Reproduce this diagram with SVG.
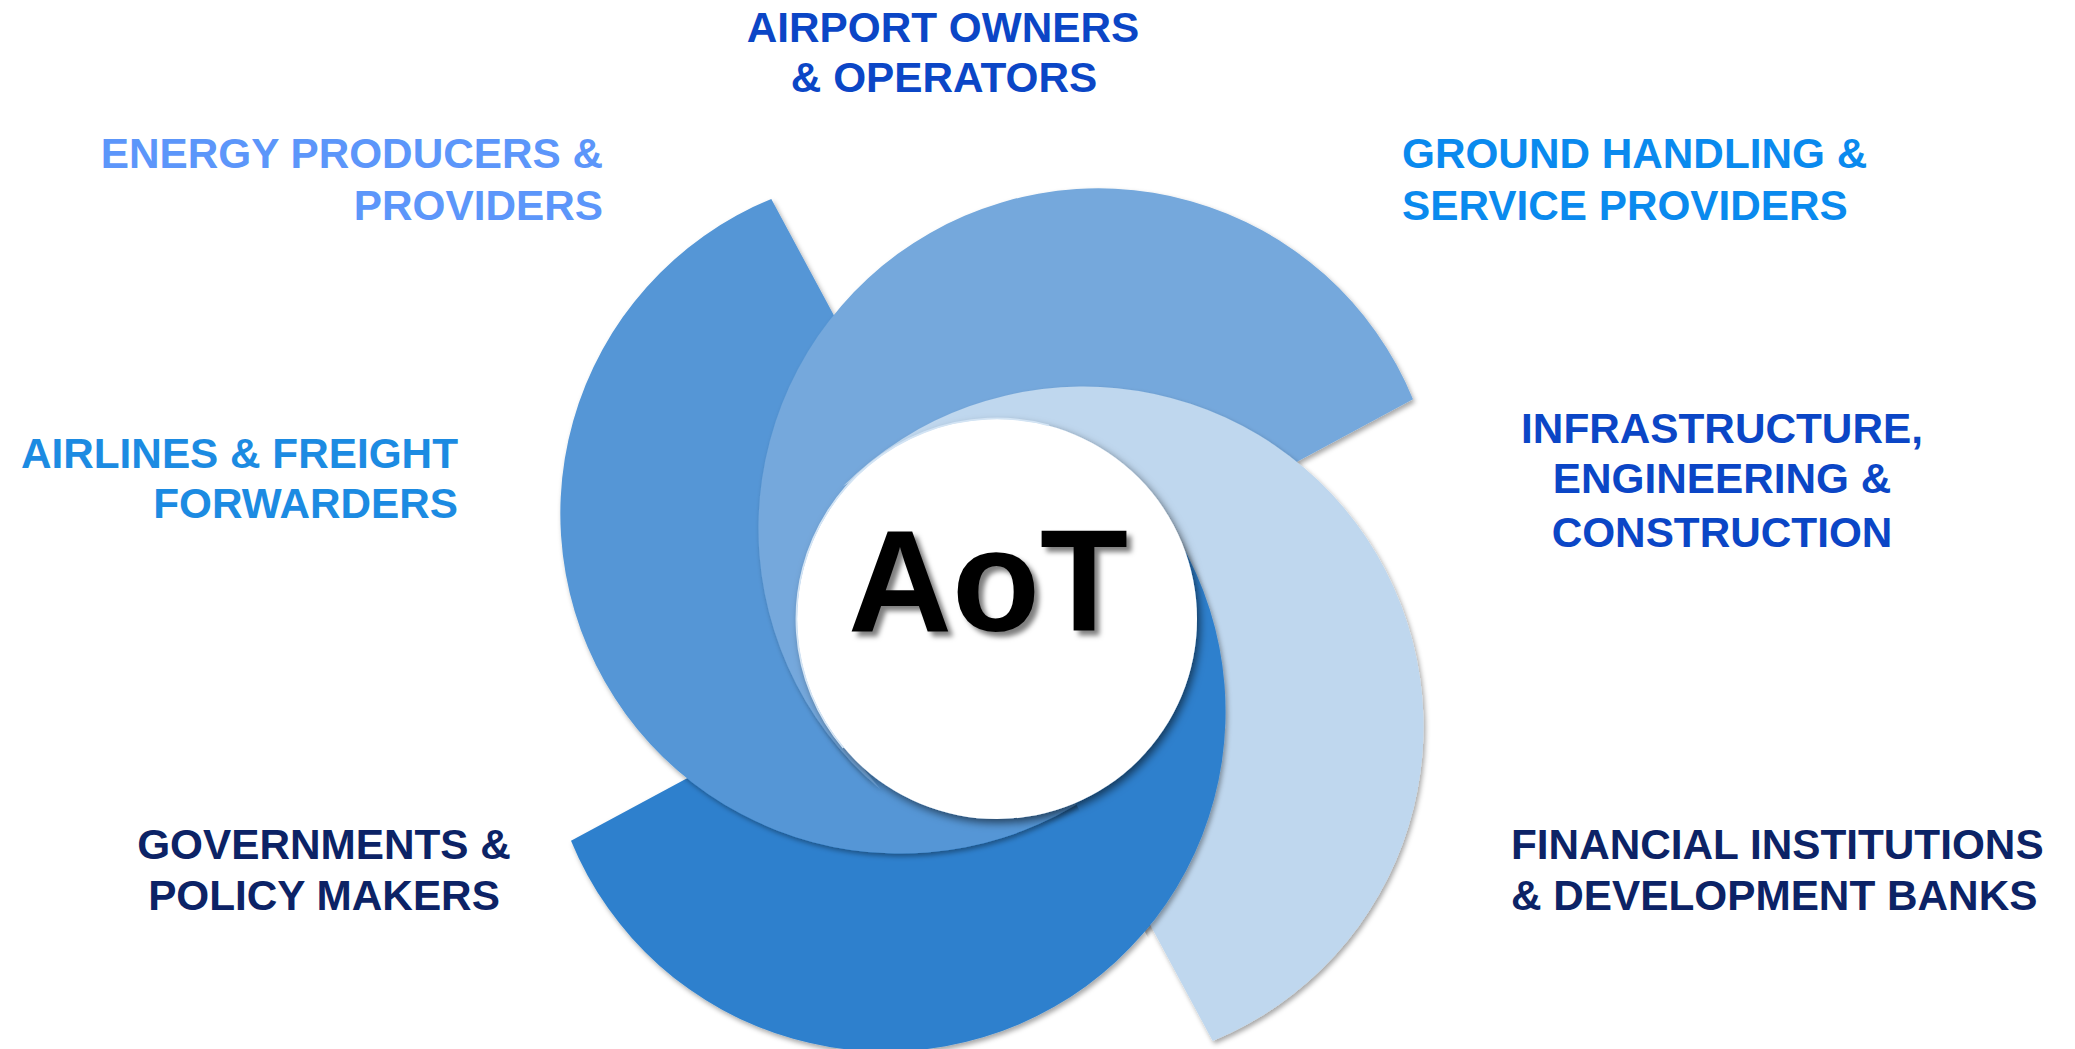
<svg xmlns="http://www.w3.org/2000/svg" width="2075" height="1049" viewBox="0 0 2075 1049">
  <defs>
    <style>
      .lbl { font-family: "Liberation Sans", Arial, sans-serif; font-weight: bold; font-size: 42.3px; }
      .c-own { fill: #0b46c6; }
      .c-energy { fill: #5c96fa; }
      .c-air { fill: #1c8be2; }
      .c-ground { fill: #0a8aee; }
      .c-navy { fill: #0c2366; }
      .arm { filter: url(#armShadow); }
    </style>
    <filter id="armShadow" x="-10%" y="-10%" width="125%" height="125%">
      <feDropShadow dx="2" dy="3" stdDeviation="2.5" flood-color="#000" flood-opacity="0.35"/>
    </filter>
    <filter id="hubShadow" x="-15%" y="-15%" width="135%" height="135%">
      <feDropShadow dx="3" dy="4" stdDeviation="4" flood-color="#000" flood-opacity="0.55"/>
    </filter>
    <filter id="textShadow" x="-10%" y="-10%" width="125%" height="130%">
      <feDropShadow dx="5" dy="5" stdDeviation="2.5" flood-color="#000" flood-opacity="0.5"/>
    </filter>
    <path id="arm1Path" d="M771.3,199.0 A340,340 0 1 0 1160.8,732.1 L1118.3,766.8 L997,619 L922.9,480.8 Z"/>
    <path id="arm2Path" d="M1413.0,399.3 A340,340 0 1 0 879.9,788.8 L845.2,746.3 L997,619 L1131.2,550.9 Z"/>
    <path id="arm3Path" d="M1212.7,1041.0 A340,340 0 1 0 843.2,486 L865.7,473.2 L997,619 L1061.1,759.2 Z"/>
    <path id="arm4Path" d="M571.0,840.7 A340,340 0 1 0 1104.1,451.2 L1138.8,493.7 L997,619 L852.8,689.1 Z"/>
    <clipPath id="clipRight">
      <polygon points="1054,763 1110,640 1150,420 1600,420 1600,1060 1214,1060"/>
    </clipPath>
  </defs>

  <rect x="0" y="0" width="2075" height="1049" fill="#ffffff"/>

  <g id="swirl">
    <use id="arm4" class="arm" href="#arm4Path" fill="#2f80cd"/>
    <use id="arm1" class="arm" href="#arm1Path" fill="#5496d6"/>
    <use id="arm2" class="arm" href="#arm2Path" fill="#74a8dc"/>
    <use id="arm3" class="arm" href="#arm3Path" fill="#bfd7ee"/>
    <g id="arm4-over" clip-path="url(#clipRight)">
      <use class="arm" href="#arm4Path" fill="#2f80cd"/>
    </g>
  </g>

  <g id="hub">
    <circle cx="997" cy="619" r="200" fill="#ffffff" filter="url(#hubShadow)"/>
    <path d="M1048.9,425.3 A200.5,200.5 0 0 0 843.4,747.9" fill="none" stroke="#d3e4f4" stroke-width="1.8"/>
    <text x="988" y="631" text-anchor="middle" font-family="'Liberation Sans', Arial, sans-serif" font-weight="bold" font-size="144" fill="#000000" filter="url(#textShadow)">AoT</text>
  </g>

  <g id="airport-owners">
    <text class="lbl c-own" x="943" y="41.5" text-anchor="middle">AIRPORT OWNERS</text>
    <text class="lbl c-own" x="944" y="91.5" text-anchor="middle">&amp; OPERATORS</text>
  </g>

  <g id="energy-producers">
    <text class="lbl c-energy" x="603" y="168" text-anchor="end">ENERGY PRODUCERS &amp;</text>
    <text class="lbl c-energy" x="603" y="220" text-anchor="end">PROVIDERS</text>
  </g>

  <g id="ground-handling">
    <text class="lbl c-ground" x="1402" y="168">GROUND HANDLING &amp;</text>
    <text class="lbl c-ground" x="1402" y="220">SERVICE PROVIDERS</text>
  </g>

  <g id="airlines">
    <text class="lbl c-air" x="458" y="468" text-anchor="end">AIRLINES &amp; FREIGHT</text>
    <text class="lbl c-air" x="458" y="518" text-anchor="end">FORWARDERS</text>
  </g>

  <g id="infrastructure">
    <text class="lbl c-own" x="1722" y="443" text-anchor="middle">INFRASTRUCTURE,</text>
    <text class="lbl c-own" x="1722" y="493" text-anchor="middle">ENGINEERING &amp;</text>
    <text class="lbl c-own" x="1722" y="547" text-anchor="middle">CONSTRUCTION</text>
  </g>

  <g id="governments">
    <text class="lbl c-navy" x="324" y="859" text-anchor="middle">GOVERNMENTS &amp;</text>
    <text class="lbl c-navy" x="324" y="910" text-anchor="middle">POLICY MAKERS</text>
  </g>

  <g id="financial-institutions">
    <text class="lbl c-navy" x="1511" y="859">FINANCIAL INSTITUTIONS</text>
    <text class="lbl c-navy" x="1511" y="910">&amp; DEVELOPMENT BANKS</text>
  </g>
</svg>
